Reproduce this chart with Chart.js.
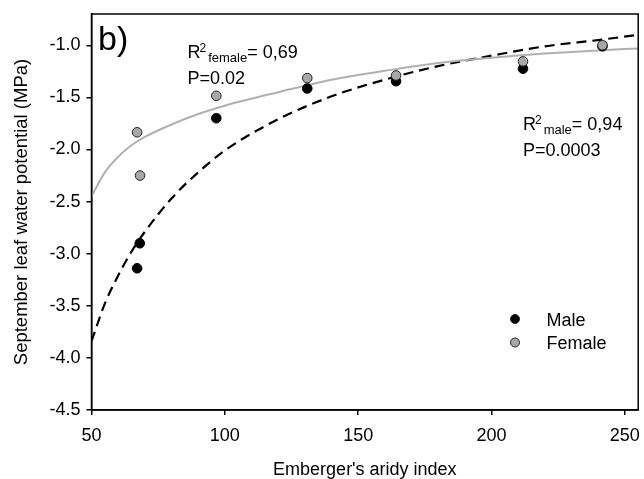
<!DOCTYPE html>
<html>
<head>
<meta charset="utf-8">
<script src="https://cdn.jsdelivr.net/npm/chart.js@4/dist/chart.umd.min.js"></script>
<style>
  body{margin:0;background:#fff}
  #wrap{width:644px;height:479px}
</style>
</head>
<body>
<div id="wrap"><canvas id="c" width="644" height="479"></canvas></div>
<script>
// measured points
const maleX   = [67.1, 68.1, 96.8, 130.9, 164.2, 211.8, 241.6];
const maleY   = [-3.14, -2.90, -1.70, -1.415, -1.345, -1.225, -1.01];
const femaleX = [67.1, 68.2, 96.8, 130.9, 164.2, 211.8, 241.6];
const femaleY = [-1.835, -2.25, -1.485, -1.315, -1.29, -1.155, -1.00];

// fitted curves
const fitX      = [50, 55, 60, 65, 70, 80, 90, 100, 120, 140, 160, 180, 200, 220, 240, 255];
const maleFit   = [-3.84, -3.48, -3.21, -2.98, -2.79, -2.47, -2.22, -2.01, -1.71, -1.49, -1.33, -1.20, -1.10, -1.01, -0.95, -0.90];
const femaleFit = [-2.45, -2.22, -2.07, -1.96, -1.88, -1.76, -1.66, -1.58, -1.45, -1.33, -1.245, -1.17, -1.12, -1.08, -1.05, -1.03];

const xTicks = [50, 100, 150, 200, 250];
const yTicks = [-4.5, -4.0, -3.5, -3.0, -2.5, -2.0, -1.5, -1.0];

const FONT = "'Liberation Sans', Arial, sans-serif";
const pts = (xs, ys) => xs.map((x, i) => ({x, y: ys[i]}));

const boxAndText = {
  id: 'boxAndText',
  afterDraw(chart) {
    const ctx = chart.ctx, a = chart.chartArea;
    ctx.save();
    ctx.strokeStyle = '#000';
    ctx.lineWidth = 1.5;
    ctx.strokeRect(a.left, a.top, a.right - a.left, a.bottom - a.top);

    ctx.fillStyle = '#000';
    ctx.textBaseline = 'alphabetic';
    ctx.font = '34px ' + FONT;
    ctx.fillText('b)', 98, 50);

    const rText = (x, y, sub, val) => {
      ctx.font = '18px ' + FONT;
      ctx.fillText('R', x, y);
      let w = ctx.measureText('R').width;
      ctx.font = '12px ' + FONT;
      ctx.fillText('2', x + w - 1, y - 6);
      w += ctx.measureText('2').width + 1;
      ctx.font = '13px ' + FONT;
      ctx.fillText(sub, x + w, y + 4);
      w += ctx.measureText(sub).width;
      ctx.font = '18px ' + FONT;
      ctx.fillText('= ' + val, x + w, y);
    };
    rText(187.5, 58, 'female', '0,69');
    ctx.fillText('P=0.02', 187.5, 84);
    rText(523, 130, 'male', '0,94');
    ctx.fillText('P=0.0003', 523, 156);

    // legend
    const leg = [['Male', '#000', 319], ['Female', '#a8a8a8', 342.5]];
    leg.forEach(([name, col, y]) => {
      ctx.beginPath();
      ctx.arc(515, y, 4.5, 0, Math.PI * 2);
      ctx.fillStyle = col;
      ctx.fill();
      ctx.lineWidth = 1;
      ctx.strokeStyle = '#222';
      ctx.stroke();
      ctx.fillStyle = '#000';
      ctx.font = '18px ' + FONT;
      ctx.fillText(name, 546.5, y + 6.5);
    });
    ctx.restore();
  }
};

new Chart(document.getElementById('c'), {
  type: 'scatter',
  data: {
    datasets: [
      {label: 'Female', data: pts(femaleX, femaleY), order: 0, pointRadius: 4.8, pointBackgroundColor: '#a8a8a8', pointBorderColor: '#222', pointBorderWidth: 1},
      {label: 'Male', data: pts(maleX, maleY), order: 1, pointRadius: 4.8, pointBackgroundColor: '#000', pointBorderColor: '#000', pointBorderWidth: 1},
      {label: 'Female fit', data: pts(fitX, femaleFit), order: 2, showLine: true, pointRadius: 0, borderColor: '#b0b0b0', borderWidth: 2, cubicInterpolationMode: 'monotone'},
      {label: 'Male fit', data: pts(fitX, maleFit), order: 3, showLine: true, pointRadius: 0, borderColor: '#000', borderWidth: 2.2, borderDash: [10, 6], cubicInterpolationMode: 'monotone'}
    ]
  },
  options: {
    responsive: false,
    animation: false,
    layout: {padding: {top: 14, right: -3, left: 0, bottom: 0}},
    plugins: {legend: {display: false}, tooltip: {enabled: false}},
    scales: {
      x: {
        type: 'linear', min: 50, max: 255,
        afterFit: s => { s.height = 69; s.paddingLeft = 0; s.paddingRight = 0; },
        afterBuildTicks: s => { s.ticks = xTicks.map(v => ({value: v})); },
        grid: {drawOnChartArea: false, color: '#000', tickLength: 5, lineWidth: 1.5},
        border: {display: true, color: '#000', width: 1.5},
        ticks: {color: '#000', font: {family: FONT, size: 18}, padding: 10, maxRotation: 0},
        title: {display: true, text: "Emberger's aridy index", color: '#000', font: {family: FONT, size: 18}, padding: {top: 4, bottom: -2}}
      },
      y: {
        type: 'linear', min: -4.5, max: -0.7,
        afterFit: s => { s.width = 91.5; s.paddingTop = 0; s.paddingBottom = 0; },
        afterBuildTicks: s => { s.ticks = yTicks.map(v => ({value: v})); },
        grid: {drawOnChartArea: false, color: '#000', tickLength: 5, lineWidth: 1.5},
        border: {display: true, color: '#000', width: 1.5},
        ticks: {color: '#000', font: {family: FONT, size: 18}, padding: 6, callback: v => v.toFixed(1)},
        title: {display: true, text: 'September leaf water potential (MPa)', color: '#000', font: {family: FONT, size: 18.5}, padding: {bottom: 0, top: 11}}
      }
    }
  },
  plugins: [boxAndText]
});
</script>
</body>
</html>
